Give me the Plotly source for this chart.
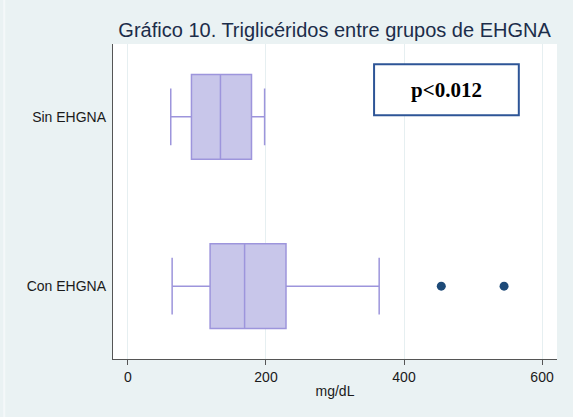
import plotly.graph_objects as go

groups = ["Sin EHGNA", "Con EHGNA"]
lower_whisker = [62, 64]
q1 = [92, 119]
median = [134, 169]
q3 = [179, 229]
upper_whisker = [198, 364]
outlier_group = ["Con EHGNA", "Con EHGNA"]
outlier_values = [454, 545]
x_ticks = [0, 200, 400, 600]

fig = go.Figure()
fig.add_trace(go.Box(
    y=groups, q1=q1, median=median, q3=q3,
    lowerfence=lower_whisker, upperfence=upper_whisker,
    orientation="h", boxpoints=False, width=0.5, whiskerwidth=0.67,
    fillcolor="#c8c6ea", line=dict(color="#9d95dc", width=1.5),
    hoverinfo="skip", showlegend=False,
))
fig.add_trace(go.Scatter(
    x=outlier_values, y=outlier_group, mode="markers",
    marker=dict(color="#1d4a78", size=9), showlegend=False, hoverinfo="skip",
))

fig.add_shape(type="rect", xref="paper", yref="paper",
              x0=0.588, x1=0.914, y0=0.774, y1=0.936,
              line=dict(color="#2e5597", width=2), fillcolor="white")
fig.add_annotation(xref="paper", yref="paper", x=0.751, y=0.855,
                   xanchor="center", yanchor="middle",
                   text="<b>p&lt;0.012</b>", showarrow=False,
                   font=dict(family="Liberation Serif, Times New Roman, serif", size=21, color="black"))

fig.update_layout(
    width=573, height=417,
    margin=dict(l=113, r=16, t=44, b=58),
    paper_bgcolor="#eaf2f3", plot_bgcolor="white",
    font=dict(family="Liberation Sans, Arial, sans-serif", size=14, color="#1a1a1a"),
    title=dict(text="Gráfico 10. Triglicéridos entre grupos de EHGNA",
               x=0.986, xanchor="right", xref="paper", y=0.928, yanchor="middle",
               font=dict(size=20, color="#1c2d4a")),
    xaxis=dict(range=[-21.7, 621.7], tickvals=x_ticks, showgrid=True,
               gridcolor="#e6eff1", gridwidth=1, zeroline=False,
               showline=True, linecolor="#555555", linewidth=1.3,
               ticks="outside", ticklen=5, tickcolor="#555555",
               tickfont=dict(size=14),
               title=dict(text="mg/dL", font=dict(size=14), standoff=2)),
    yaxis=dict(type="category", categoryorder="array",
               categoryarray=["Con EHGNA", "Sin EHGNA"],
               range=[-0.43, 1.43], showgrid=False, zeroline=False,
               showline=True, linecolor="#555555", linewidth=1.3,
               ticks="", ticklabelstandoff=3, tickfont=dict(size=14)),
)
fig.add_shape(type="line", xref="paper", yref="paper", x0=-0.245, x1=-0.245, y0=-0.19, y1=1.14,
              line=dict(color="#f4f8f9", width=2))

fig.write_html("out.html", config={"displayModeBar": False},
               post_script="document.body.style.margin='0';document.body.style.padding='0';")
